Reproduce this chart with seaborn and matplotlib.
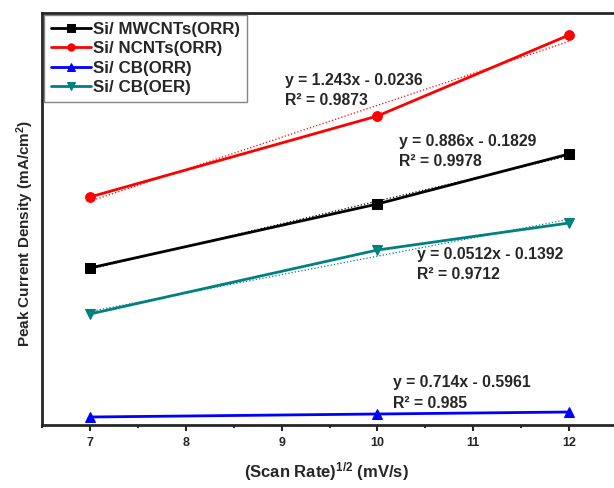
import numpy as np
import pandas as pd
import seaborn as sns
from matplotlib import pyplot as plt
from matplotlib.ticker import MultipleLocator

# data (y in arbitrary units, no y scale shown)
scan_rate = [7, 10, 12]
mwcnt_orr = [15.7, 22.1, 27.1]
ncnt_orr = [22.8, 30.9, 39.0]
cb_orr = [0.8, 1.1, 1.3]
cb_oer = [11.1, 17.5, 20.2]

names = ['Si/ MWCNTs(ORR)', 'Si/ NCNTs(ORR)', 'Si/ CB(ORR)', 'Si/ CB(OER)']
colors = ['black', 'red', 'blue', '#008080']
markers = ['s', 'o', '^', 'v']

# fit equations shown on the chart
equations = ['y = 0.886x - 0.1829', 'y = 1.243x - 0.0236',
             'y = 0.714x - 0.5961', 'y = 0.0512x - 0.1392']
r_squared = ['R² = 0.9978', 'R² = 0.9873', 'R² = 0.985', 'R² = 0.9712']
label_x = [10.23, 9.04, 10.16, 10.41]
label_y = [27.35, 33.45, 3.22, 16.07]

sns.set_style('ticks')
plt.rcParams['font.family'] = ['Liberation Sans', 'DejaVu Sans']
plt.rcParams['font.weight'] = 'bold'
plt.rcParams['mathtext.fontset'] = 'custom'
plt.rcParams['mathtext.rm'] = 'Liberation Sans:bold'
plt.rcParams['mathtext.bf'] = 'Liberation Sans:bold'
plt.rcParams['mathtext.default'] = 'bf'

df = pd.DataFrame({'x': scan_rate * 4,
                   'y': mwcnt_orr + ncnt_orr + cb_orr + cb_oer,
                   'sample': np.repeat(names, len(scan_rate))})

fig = plt.figure(figsize=(6.14, 4.88), dpi=100)
ax = fig.add_axes([42 / 614, 1 - 425 / 488, 575 / 614, 412 / 488])

# dotted linear fits behind the data lines
for n, c in zip(names, colors):
    sub = df[df['sample'] == n]
    sns.regplot(data=sub, x='x', y='y', scatter=False, ci=None,
                color=c, line_kws=dict(ls=':', lw=0.9), ax=ax)

sns.lineplot(data=df, x='x', y='y', hue='sample', style='sample',
             palette=colors, markers=markers, dashes=False, markersize=7,
             markeredgecolor=None, lw=2, ax=ax)

for eq, r2, tx, ty in zip(equations, r_squared, label_x, label_y):
    ax.text(tx, ty, eq + '\n' + r2, fontsize=11.3, fontweight='bold',
            linespacing=1.45, va='center', ha='left')

ax.set_xlim(6.5, 12.5)
ax.set_ylim(0, 41.2)
ax.set_yticks([])
ax.xaxis.set_major_locator(MultipleLocator(1))
ax.xaxis.set_minor_locator(MultipleLocator(0.5))
ax.tick_params(axis='x', which='major', direction='out', length=4.5, width=1.5,
               labelsize=9, pad=4)
ax.tick_params(axis='x', which='minor', direction='out', length=2.5, width=1.5)
for lab in ax.get_xticklabels():
    lab.set_fontweight('bold')
for s in ax.spines.values():
    s.set_linewidth(2)

ax.set_xlabel('(Scan Rate)$^{1/2}$ (mV/s)', fontsize=12, fontweight='bold', labelpad=8)
ax.xaxis.label.set_x(0.495)
ax.set_ylabel('Peak Current Density (mA/cm$^{2}$)', fontsize=11, fontweight='bold', labelpad=4)
ax.yaxis.label.set_y(0.466)

leg = ax.legend(loc='upper left', fontsize=12.2, frameon=True, fancybox=False,
                edgecolor='#666666', borderaxespad=0.12, handlelength=2.37,
                labelspacing=0.26, handletextpad=0.12, borderpad=0.4, markerscale=0.75)
leg.get_frame().set_linewidth(1.0)
for t in leg.get_texts():
    t.set_fontweight('bold')

fig.savefig('out.png', dpi=100)
